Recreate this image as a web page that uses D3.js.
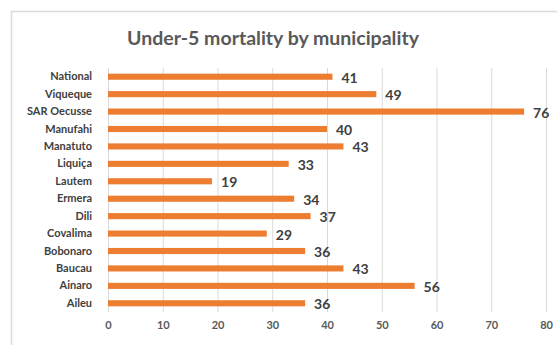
<!DOCTYPE html>
<html>
<head>
<meta charset="utf-8">
<script src="https://cdn.jsdelivr.net/npm/d3@7"></script>
<style>
  html, body { margin: 0; padding: 0; background: #fff; }
  svg { display: block; font-family: Lato, "Open Sans", sans-serif; }
</style>
</head>
<body>
<svg id="chart" width="557" height="345"></svg>
<script>
// Under-5 mortality (deaths per 1,000 live births), top to bottom
const municipalities = ["National", "Viqueque", "SAR Oecusse", "Manufahi", "Manatuto", "Liquiça",
  "Lautem", "Ermera", "Dili", "Covalima", "Bobonaro", "Baucau", "Ainaro", "Aileu"];
const mortality = [41, 49, 76, 40, 43, 33, 19, 34, 37, 29, 36, 43, 56, 36];
const xTicks = [0, 10, 20, 30, 40, 50, 60, 70, 80];
const chartTitle = "Under-5 mortality by municipality";

const svg = d3.select("#chart");
const rows = municipalities.map((name, i) => ({ name, value: mortality[i] }));

const margin = { left: 108, right: 11, top: 68, bottom: 33 };
const W = 557, H = 345;

const x = d3.scaleLinear().domain([0, 80]).range([margin.left, W - margin.right]);
const y = d3.scaleBand().domain(municipalities).range([margin.top, H - margin.bottom]).paddingInner(0.65).paddingOuter(0.325);

// chart area frame (left and top edges)
svg.append("path")
  .attr("d", `M11.5,${H} L11.5,11.5 L${W},11.5`)
  .attr("fill", "none").attr("stroke", "#d9d9d9").attr("stroke-width", 1.5);

// title
svg.append("text")
  .attr("x", 273).attr("y", 45)
  .attr("text-anchor", "middle")
  .attr("font-size", 19.5).attr("font-weight", 700)
  .attr("fill", "#595959")
  .text(chartTitle);

// vertical gridlines + tick labels
const xAxis = d3.axisBottom(x).tickValues(xTicks).tickSize(-(H - margin.bottom - margin.top)).tickPadding(9);
const gx = svg.append("g").attr("transform", `translate(0,${H - margin.bottom})`).call(xAxis);
gx.select(".domain").remove();
gx.selectAll(".tick line").attr("stroke", "#d9d9d9").attr("stroke-width", 1);
gx.selectAll(".tick text").attr("fill", "#595959").attr("font-size", 11).attr("font-weight", 700)
  .attr("font-family", "Lato, sans-serif");

// category labels
const yAxis = d3.axisLeft(y).tickSize(0).tickPadding(16);
const gy = svg.append("g").attr("transform", `translate(${margin.left},0)`).call(yAxis);
gy.select(".domain").remove();
gy.selectAll(".tick text").attr("fill", "#404040").attr("font-size", 11).attr("font-weight", 700)
  .attr("font-family", "Lato, sans-serif");

// bars
svg.append("g").selectAll("rect").data(rows).join("rect")
  .attr("x", x(0))
  .attr("y", d => y(d.name))
  .attr("width", d => x(d.value) - x(0))
  .attr("height", y.bandwidth())
  .attr("fill", "#ED7D31");

// value labels
svg.append("g").selectAll("text").data(rows).join("text")
  .attr("x", d => x(d.value) + 9)
  .attr("y", d => y(d.name) + y.bandwidth() / 2 + 6)
  .attr("font-size", 14).attr("font-weight", 700)
  .attr("fill", "#404040")
  .text(d => d.value);
</script>
</body>
</html>
